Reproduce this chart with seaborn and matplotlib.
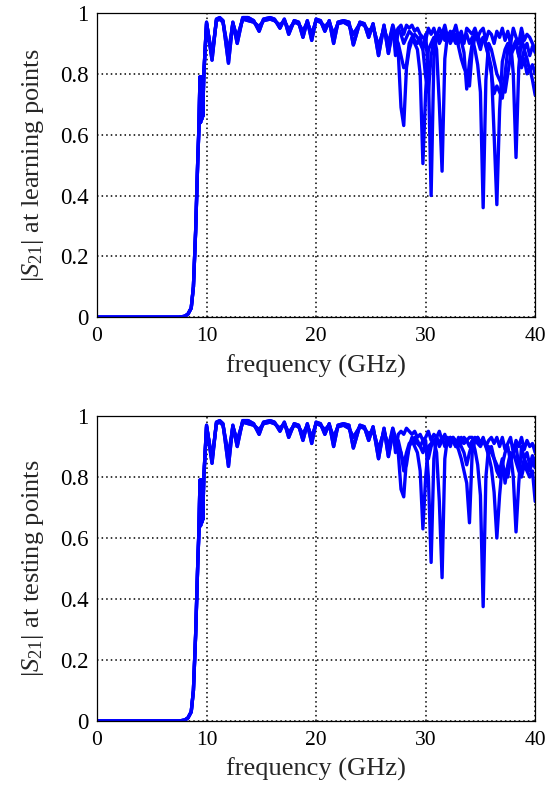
import numpy as np
import pandas as pd
import matplotlib
matplotlib.use("Agg")
import matplotlib.pyplot as plt
from matplotlib.ticker import FormatStrFormatter
import seaborn as sns

# pass band, shared by every curve (GHz, |S21|)
band_freq = [0, 2, 4, 6, 7.5, 8.0, 8.3, 8.6, 8.8, 9.0, 9.1, 9.2, 9.3, 9.4, 9.45,
             9.5, 9.55, 9.6, 9.65, 9.75, 10.0, 10.5, 10.9, 11.2, 11.5, 12.0, 12.4,
             12.8, 13.3, 13.8, 14.3, 14.8, 15.2, 15.8, 16.2, 16.7, 17.1, 17.5, 18.0,
             18.4, 18.8, 19.2, 19.6, 20.0, 20.4, 20.8, 21.2, 21.6, 22.0, 22.5, 23.0,
             23.4, 24.0, 24.4, 24.8, 25.2, 25.7, 26.2, 26.6]
band_s21 = [0, 0, 0, 0, 0, 0.003, 0.01, 0.03, 0.10, 0.28, 0.40, 0.52, 0.62, 0.79, 0.64,
            0.79, 0.65, 0.79, 0.66, 0.80, 0.97, 0.845, 0.98, 0.985, 0.975, 0.835, 0.97,
            0.90, 0.985, 0.985, 0.975, 0.94, 0.98, 0.985, 0.98, 0.95, 0.98, 0.93, 0.975,
            0.97, 0.92, 0.975, 0.91, 0.98, 0.975, 0.94, 0.975, 0.90, 0.97, 0.975, 0.97,
            0.895, 0.97, 0.965, 0.92, 0.965, 0.86, 0.96, 0.867]
# second pass-band trace, slightly shallower dips
band_s21_b = [0, 0, 0, 0, 0, 0.003, 0.01, 0.03, 0.10, 0.28, 0.40, 0.52, 0.62, 0.79, 0.64,
              0.79, 0.65, 0.79, 0.66, 0.80, 0.965, 0.86, 0.975, 0.98, 0.97, 0.87, 0.965,
              0.92, 0.98, 0.975, 0.97, 0.955, 0.975, 0.98, 0.975, 0.96, 0.975, 0.945, 0.97,
              0.965, 0.94, 0.97, 0.93, 0.975, 0.97, 0.955, 0.97, 0.93, 0.965, 0.97, 0.96,
              0.93, 0.965, 0.96, 0.94, 0.955, 0.89, 0.95, 0.90]

# upper band edge, 27-40 GHz in 0.25 GHz steps
tail_freq = np.arange(27.0, 40.01, 0.25)

learn_a = [0.96, 0.86, 0.95, 0.96, 0.93, 0.96, 0.95, 0.96, 0.94, 0.95,
           0.93, 0.92, 0.91, 0.95, 0.93, 0.95, 0.92, 0.95, 0.93, 0.96,
           0.92, 0.94, 0.93, 0.96, 0.92, 0.94, 0.90, 0.95, 0.94, 0.93,
           0.95, 0.92, 0.94, 0.95, 0.91, 0.94, 0.93, 0.90, 0.94, 0.92,
           0.95, 0.91, 0.94, 0.90, 0.95, 0.92, 0.90, 0.95, 0.91, 0.93,
           0.92, 0.90, 0.88]
learn_b = [0.95, 0.90, 0.87, 0.69, 0.63, 0.82, 0.88, 0.91, 0.93, 0.92,
           0.90, 0.88, 0.93, 0.80, 0.40, 0.85, 0.93, 0.92, 0.94, 0.91,
           0.93, 0.90, 0.92, 0.93, 0.89, 0.85, 0.82, 0.80, 0.76, 0.88,
           0.92, 0.93, 0.90, 0.92, 0.89, 0.86, 0.82, 0.60, 0.37, 0.68,
           0.84, 0.88, 0.90, 0.86, 0.89, 0.91, 0.86, 0.84, 0.88, 0.85,
           0.81, 0.83, 0.80]
learn_c = [0.94, 0.92, 0.90, 0.86, 0.82, 0.83, 0.90, 0.92, 0.90, 0.88,
           0.80, 0.505, 0.74, 0.88, 0.90, 0.92, 0.88, 0.70, 0.48, 0.85,
           0.93, 0.91, 0.94, 0.92, 0.90, 0.93, 0.91, 0.93, 0.90, 0.92,
           0.88, 0.83, 0.74, 0.36, 0.78, 0.90, 0.88, 0.84, 0.80, 0.78,
           0.76, 0.74, 0.80, 0.86, 0.88, 0.90, 0.86, 0.82, 0.85, 0.80,
           0.82, 0.78, 0.73]
learn_d = [0.96, 0.93, 0.95, 0.93, 0.90, 0.92, 0.94, 0.93, 0.91, 0.90,
           0.92, 0.88, 0.79, 0.74, 0.86, 0.91, 0.93, 0.90, 0.92, 0.94,
           0.91, 0.93, 0.92, 0.90, 0.93, 0.91, 0.87, 0.75, 0.84, 0.90,
           0.93, 0.91, 0.88, 0.92, 0.90, 0.85, 0.80, 0.735, 0.76, 0.74,
           0.72, 0.80, 0.88, 0.91, 0.80, 0.525, 0.82, 0.92, 0.88, 0.90,
           0.86, 0.89, 0.87]

test_a = [0.96, 0.88, 0.94, 0.95, 0.94, 0.96, 0.95, 0.94, 0.95, 0.93,
          0.94, 0.92, 0.93, 0.95, 0.92, 0.94, 0.93, 0.95, 0.92, 0.94,
          0.91, 0.93, 0.92, 0.90, 0.93, 0.91, 0.93, 0.92, 0.93, 0.93,
          0.92, 0.93, 0.91, 0.93, 0.90, 0.92, 0.93, 0.91, 0.93, 0.90,
          0.93, 0.89, 0.91, 0.93, 0.88, 0.92, 0.90, 0.93, 0.89, 0.92,
          0.90, 0.91, 0.88]
test_b = [0.95, 0.90, 0.88, 0.76, 0.735, 0.86, 0.90, 0.92, 0.93, 0.91,
          0.90, 0.88, 0.92, 0.80, 0.52, 0.86, 0.93, 0.91, 0.93, 0.90,
          0.92, 0.90, 0.93, 0.91, 0.89, 0.86, 0.82, 0.78, 0.65, 0.88,
          0.92, 0.93, 0.91, 0.92, 0.90, 0.87, 0.83, 0.75, 0.60, 0.74,
          0.84, 0.88, 0.90, 0.85, 0.88, 0.90, 0.84, 0.82, 0.86, 0.84,
          0.82, 0.85, 0.83]
test_c = [0.94, 0.92, 0.90, 0.88, 0.84, 0.88, 0.91, 0.92, 0.90, 0.88,
          0.82, 0.63, 0.80, 0.90, 0.91, 0.92, 0.88, 0.72, 0.47, 0.86,
          0.93, 0.91, 0.93, 0.92, 0.90, 0.93, 0.91, 0.92, 0.90, 0.92,
          0.89, 0.84, 0.74, 0.375, 0.80, 0.90, 0.88, 0.86, 0.82, 0.80,
          0.84, 0.82, 0.80, 0.86, 0.88, 0.85, 0.82, 0.80, 0.84, 0.82,
          0.80, 0.82, 0.72]
test_d = [0.96, 0.93, 0.92, 0.88, 0.82, 0.84, 0.90, 0.93, 0.91, 0.92,
          0.90, 0.92, 0.90, 0.86, 0.90, 0.92, 0.93, 0.90, 0.92, 0.93,
          0.91, 0.93, 0.92, 0.90, 0.92, 0.90, 0.88, 0.84, 0.88, 0.91,
          0.93, 0.91, 0.90, 0.92, 0.91, 0.88, 0.90, 0.86, 0.84, 0.82,
          0.86, 0.78, 0.84, 0.88, 0.80, 0.62, 0.78, 0.90, 0.86, 0.88,
          0.84, 0.87, 0.85]

x_ticks = [0, 10, 20, 30, 40]
y_ticks = [0, 0.2, 0.4, 0.6, 0.8, 1]


def make_frame(tails):
    rows = []
    for k, tail in enumerate(tails):
        band = band_s21 if k % 2 == 0 else band_s21_b
        f = list(band_freq) + list(tail_freq)
        s = list(band) + list(tail)
        rows.append(pd.DataFrame({"freq": f, "s21": s, "curve": k}))
    return pd.concat(rows, ignore_index=True)


sns.set_style("white")
plt.rcParams["font.family"] = ["Liberation Serif", "DejaVu Serif"]
plt.rcParams["mathtext.fontset"] = "custom"
plt.rcParams["mathtext.rm"] = "Liberation Serif"
plt.rcParams["mathtext.it"] = "Liberation Serif:italic"

fig = plt.figure(figsize=(5.45, 7.89), dpi=100)
ax1 = fig.add_axes([0.178, 0.598, 0.804, 0.3855])
ax2 = fig.add_axes([0.178, 0.0862, 0.804, 0.3865])

panels = [(ax1, [learn_a, learn_b, learn_c, learn_d], "learning"),
          (ax2, [test_a, test_b, test_c, test_d], "testing")]

for ax, tails, name in panels:
    df = make_frame(tails)
    sns.lineplot(data=df, x="freq", y="s21", units="curve", estimator=None,
                 color="#0000ff", lw=2.4, ax=ax, legend=False)
    ax.set_xlim(0, 40)
    ax.set_ylim(0, 1)
    ax.set_xticks(x_ticks)
    ax.set_yticks(y_ticks)
    ax.yaxis.set_major_formatter(FormatStrFormatter("%g"))
    ax.grid(True, ls=(0, (1, 2)), color="k", lw=1.1)
    ax.tick_params(direction="in", length=3, colors="k")
    ax.tick_params(axis="y", labelsize=16.5, pad=6)
    ax.tick_params(axis="x", labelsize=15.5, pad=7)
    for sp in ax.spines.values():
        sp.set_color("k")
        sp.set_linewidth(0.9)
    ax.set_xlabel("frequency (GHz)", fontsize=19, labelpad=6)
    ax.set_ylabel(r"$|S_{21}|$ at " + name + " points", fontsize=19, labelpad=10)

fig.savefig("out.png", dpi=100)
